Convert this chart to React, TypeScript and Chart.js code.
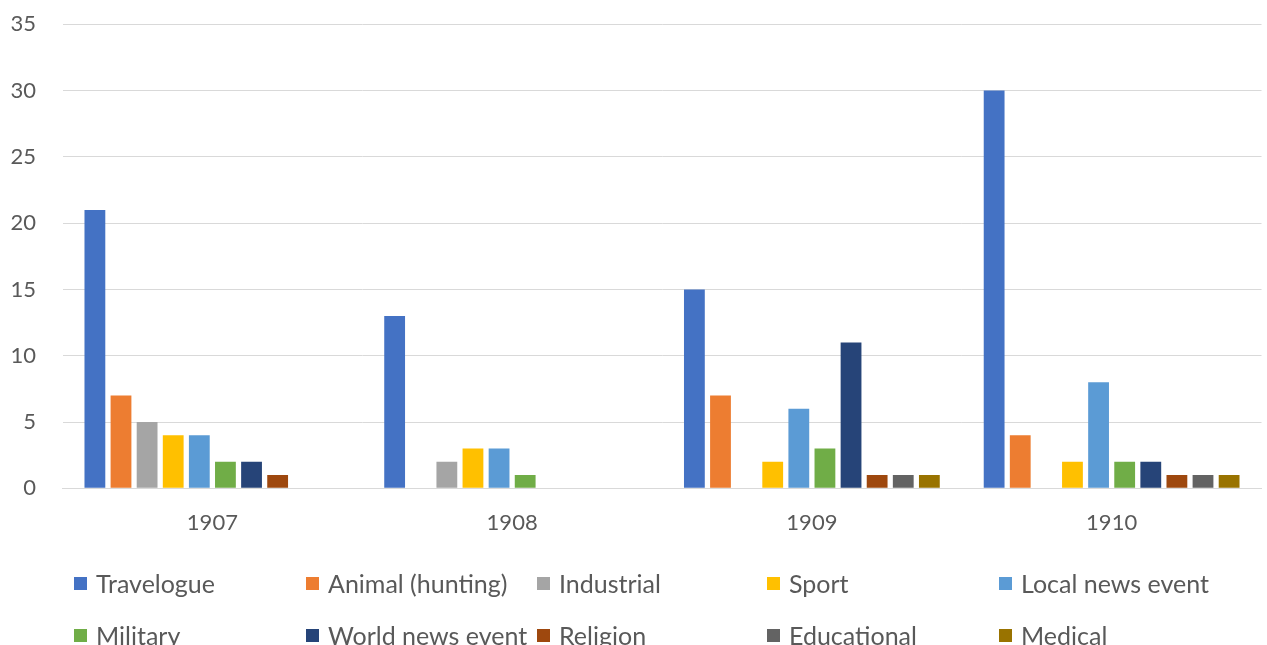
import React, { useEffect, useRef } from "react";
import { Chart, registerables } from "chart.js";

Chart.register(...registerables);

const years = ["1907", "1908", "1909", "1910"];

const travelogue = [21, 13, 15, 30];
const animalHunting = [7, 0, 7, 4];
const industrial = [5, 2, 0, 0];
const sport = [4, 3, 2, 2];
const localNewsEvent = [4, 3, 6, 8];
const military = [2, 1, 3, 2];
const worldNewsEvent = [2, 0, 11, 2];
const religion = [1, 0, 1, 1];
const educational = [0, 0, 1, 1];
const medical = [0, 0, 1, 1];

const seriesNames = [
  "Travelogue",
  "Animal (hunting)",
  "Industrial",
  "Sport",
  "Local news event",
  "Military",
  "World news event",
  "Religion",
  "Educational",
  "Medical",
];
const seriesValues = [
  travelogue,
  animalHunting,
  industrial,
  sport,
  localNewsEvent,
  military,
  worldNewsEvent,
  religion,
  educational,
  medical,
];
const seriesColors = [
  "#4472C4",
  "#ED7D31",
  "#A5A5A5",
  "#FFC000",
  "#5B9BD5",
  "#70AD47",
  "#264478",
  "#9E480E",
  "#636363",
  "#997300",
];

const yTicks = [0, 5, 10, 15, 20, 25, 30, 35];

const FONT = "Lato, 'Open Sans', sans-serif";
const TEXT = "#595959";
const GRID = "#d9d9d9";

const W = 1267;
const H = 645;

// Legend laid out as a 5-column grid, two rows
const legendCols = [74, 306, 537, 767, 999];
const legendRows = [583, 635];

export default function App() {
  const canvasRef = useRef<HTMLCanvasElement | null>(null);

  useEffect(() => {
    const canvas = canvasRef.current;
    if (!canvas) return;
    const chart = new Chart(canvas, {
      type: "bar",
      data: {
        labels: years,
        datasets: seriesNames.map((name, i) => ({
          label: name,
          data: seriesValues[i],
          backgroundColor: seriesColors[i],
          borderWidth: 0,
          categoryPercentage: 0.871,
          barPercentage: 0.797,
        })),
      },
      options: {
        responsive: false,
        animation: false,
        maintainAspectRatio: false,
        layout: { padding: { left: 0, right: 5.5, top: 24.3, bottom: 0 } },
        plugins: {
          legend: { display: false },
          tooltip: { enabled: false },
        },
        scales: {
          x: {
            grid: { display: false, drawTicks: false },
            border: { display: true, color: GRID, width: 1 },
            ticks: {
              color: TEXT,
              font: { family: FONT, size: 22 },
              padding: 21.5,
              maxRotation: 0,
            },
            afterFit: (scale: any) => {
              scale.height = H - 488.3;
              scale.paddingLeft = 0;
              scale.paddingRight = 0;
            },
          },
          y: {
            min: 0,
            max: 35,
            afterBuildTicks: (scale: any) => {
              scale.ticks = yTicks.map((v) => ({ value: v }));
            },
            grid: { color: GRID, lineWidth: 1, drawTicks: false },
            border: { display: false },
            ticks: {
              color: TEXT,
              font: { family: FONT, size: 22 },
              padding: 26.5,
            },
            afterFit: (scale: any) => {
              scale.width = 62.5;
              scale.paddingTop = 0;
              scale.paddingBottom = 0;
            },
          },
        },
      },
    });
    return () => chart.destroy();
  }, []);

  return (
    <div
      style={{
        position: "fixed",
        left: 0,
        top: 0,
        width: W,
        height: H,
        background: "#ffffff",
        fontFamily: FONT,
      }}
    >
      <canvas
        ref={canvasRef}
        width={W}
        height={H}
        style={{ position: "absolute", left: 0, top: 0, width: W, height: H }}
      />
      {seriesNames.map((name, i) => {
        const col = i % 5;
        const row = Math.floor(i / 5);
        return (
          <div
            key={name}
            style={{
              position: "absolute",
              left: legendCols[col],
              top: legendRows[row] - 16,
              height: 32,
              display: "flex",
              alignItems: "center",
              whiteSpace: "nowrap",
              color: TEXT,
              fontSize: 25,
            }}
          >
            <span
              style={{
                display: "inline-block",
                width: 13,
                height: 13,
                background: seriesColors[i],
                marginRight: 9,
              }}
            />
            <span>{name}</span>
          </div>
        );
      })}
    </div>
  );
}
